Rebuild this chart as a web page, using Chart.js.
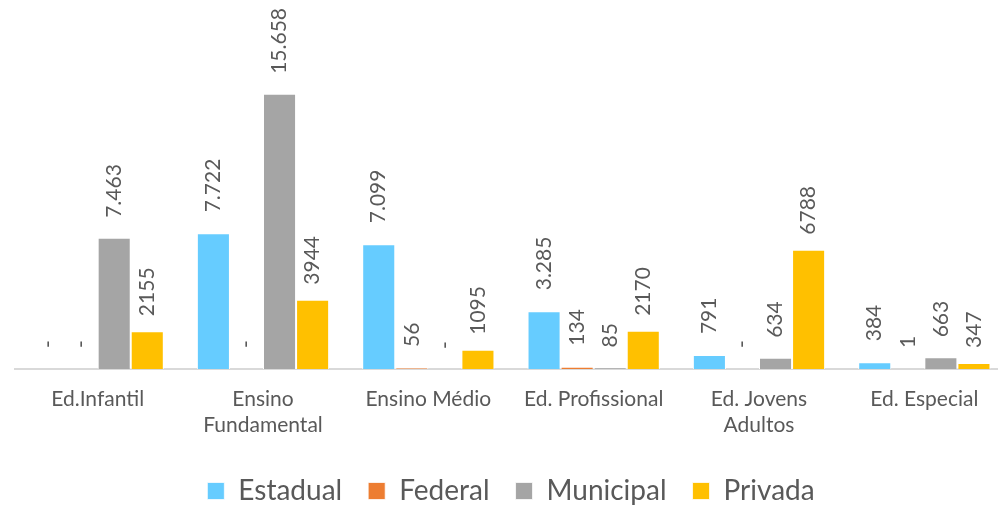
<!DOCTYPE html>
<html>
<head>
<meta charset="utf-8">
<script src="https://cdn.jsdelivr.net/npm/chart.js@4/dist/chart.umd.min.js"></script>
<style>
  html, body { margin: 0; padding: 0; background: #fff; overflow: hidden; }
  #wrap { width: 1030px; height: 508px; }
</style>
</head>
<body>
<div id="wrap"><canvas id="matriculas"></canvas></div>
<script>
// Matrículas por etapa de ensino e dependência administrativa
const etapas = ['Ed.Infantil', ['Ensino', 'Fundamental'], 'Ensino Médio', 'Ed. Profissional', ['Ed. Jovens', 'Adultos'], 'Ed. Especial'];

const estadual  = [0, 7722, 7099, 3285, 791, 384];
const federal   = [0, 0, 56, 134, 0, 1];
const municipal = [7463, 15658, 0, 85, 634, 663];
const privada   = [2155, 3944, 1095, 2170, 6788, 347];

const cores = ['#66CCFF', '#ED7D31', '#A5A5A5', '#FFC000'];
const corTexto = '#595959';
const fonte = 'Lato, Carlito, Calibri, sans-serif';

// separador de milhar com ponto, como nos rótulos originais
function formata(v, comPonto) {
    if (v === 0) return '-';
    if (!comPonto) return String(v);
    return String(v).replace(/\B(?=(\d{3})+(?!\d))/g, '.');
}

// rótulos verticais acima de cada barra
const rotulos = {
    id: 'rotulos',
    afterDatasetsDraw(chart) {
        const ctx = chart.ctx;
        ctx.save();
        ctx.fillStyle = corTexto;
        ctx.font = '21px ' + fonte;
        ctx.textAlign = 'left';
        ctx.textBaseline = 'middle';
        chart.data.datasets.forEach((ds, i) => {
            const meta = chart.getDatasetMeta(i);
            meta.data.forEach((bar, j) => {
                const texto = formata(ds.data[j], ds.pontoMilhar);
                ctx.save();
                ctx.translate(bar.x, bar.y - ds.folga);
                ctx.rotate(-Math.PI / 2);
                ctx.fillText(texto, 0, 0);
                ctx.restore();
            });
        });
        ctx.restore();
    }
};

new Chart(document.getElementById('matriculas'), {
    type: 'bar',
    data: {
        labels: etapas,
        datasets: [
            { label: 'Estadual',  data: estadual,  backgroundColor: cores[0], pontoMilhar: true,  folga: 21 },
            { label: 'Federal',   data: federal,   backgroundColor: cores[1], pontoMilhar: false, folga: 21 },
            { label: 'Municipal', data: municipal, backgroundColor: cores[2], pontoMilhar: true,  folga: 20 },
            { label: 'Privada',   data: privada,   backgroundColor: cores[3], pontoMilhar: false, folga: 15 }
        ]
    },
    options: {
        responsive: true,
        maintainAspectRatio: false,
        animation: false,
        layout: { padding: { left: 15, right: 23, top: 0, bottom: -7 } },
        datasets: {
            bar: {
                categoryPercentage: 0.8,
                barPercentage: 1.0,
                borderColor: '#ffffff',
                borderWidth: { left: 1, right: 1, top: 1 }
            }
        },
        scales: {
            x: {
                grid: { display: false },
                border: { display: true, color: '#D9D9D9', width: 2 },
                ticks: {
                    color: corTexto,
                    font: { family: fonte, size: 21 },
                    padding: 10,
                    maxRotation: 0,
                    autoSkip: false
                },
                afterFit(scale) { scale.height = 82; }
            },
            y: {
                display: false,
                min: 0,
                max: 21000
            }
        },
        plugins: {
            legend: {
                position: 'bottom',
                labels: {
                    color: corTexto,
                    font: { family: fonte, size: 28 },
                    boxWidth: 17,
                    boxHeight: 17,
                    padding: 26
                }
            },
            tooltip: { enabled: false }
        }
    },
    plugins: [rotulos]
});
</script>
</body>
</html>
